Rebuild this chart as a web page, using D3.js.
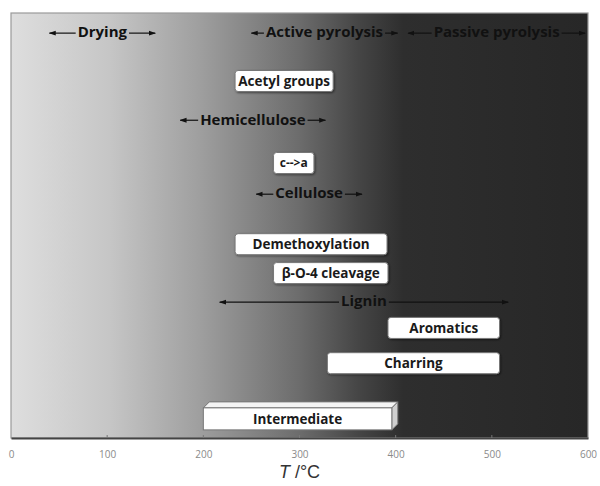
<!DOCTYPE html>
<html>
<head>
<meta charset="utf-8">
<script src="https://cdn.jsdelivr.net/npm/d3@7"></script>
<style>
  body { margin: 0; background: #fff; }
  svg text { font-family: "Open Sans", Lato, sans-serif; }
</style>
</head>
<body>
<div id="main"></div>
<script>
// ============ data ============
// temperature ranges (°C), row = vertical level (0 bottom, 100 top)
var spanLabels = ['Drying', 'Active pyrolysis', 'Passive pyrolysis', 'Hemicellulose', 'Cellulose', 'Lignin'];
var spanStart  = [40, 250, 413, 176, 255, 217];
var spanEnd    = [150, 402, 597, 327, 365, 517];
var spanRow    = [95.5, 95.5, 95.5, 75, 57.6, 32.2];

var boxLabels = ['Acetyl groups', 'c-->a', 'Demethoxylation', 'β-O-4 cleavage', 'Aromatics', 'Charring'];
var boxStart  = [233, 273, 233, 273, 392, 329];
var boxEnd    = [335, 315, 391, 392, 508, 508];
var boxRow    = [84, 64.7, 45.6, 38.8, 25.9, 17.6];

var intermLabel = 'Intermediate';
var intermRange = [200, 396];
var intermRow = 4.5;

var xTicks = [0, 100, 200, 300, 400, 500, 600];

// ============ layout ============
const W = 600, H = 486;
const plot = {left: 11, right: 588, top: 13, bottom: 438};

const svg = d3.select('#main').append('svg')
  .attr('width', W).attr('height', H);

var x = d3.scaleLinear().domain([0, 600]).range([plot.left, plot.right]);
var y = d3.scaleLinear().domain([0, 100]).range([plot.bottom, plot.top]);

// background gradient, light on the left, dark past 400 °C
var defs = svg.append('defs');
var grad = defs.append('linearGradient').attr('id', 'bg')
  .attr('x1', 0).attr('x2', 1).attr('y1', 0).attr('y2', 0);
[[0, '#dedede'], [0.17, '#c6c6c6'], [0.33, '#9e9e9e'], [0.5, '#6c6c6c'],
 [0.6, '#464646'], [0.68, '#2e2e2e'], [1, '#272727']]
  .forEach(function(s){ grad.append('stop').attr('offset', s[0]).attr('stop-color', s[1]); });

var shadow = defs.append('filter').attr('id', 'sh')
  .attr('x', '-10%').attr('y', '-20%').attr('width', '130%').attr('height', '160%');
shadow.append('feDropShadow').attr('dx', 1).attr('dy', 1).attr('stdDeviation', 0.8)
  .attr('flood-color', '#000').attr('flood-opacity', 0.5);

defs.append('marker').attr('id', 'ah')
  .attr('viewBox', '0 0 10 10').attr('refX', 9).attr('refY', 5)
  .attr('markerWidth', 7).attr('markerHeight', 7).attr('markerUnits', 'userSpaceOnUse')
  .attr('orient', 'auto')
  .append('path').attr('d', 'M0,1.5L10,5L0,8.5Z').attr('fill', '#111');

svg.append('rect')
  .attr('x', plot.left).attr('y', plot.top)
  .attr('width', plot.right - plot.left).attr('height', plot.bottom - plot.top)
  .attr('fill', 'url(#bg)')
  .attr('stroke', '#9a9a9a').attr('stroke-width', 1.2);

// x axis
var xAxis = d3.axisBottom(x).tickValues(xTicks).tickSize(0).tickPadding(13);
var gx = svg.append('g').attr('transform', 'translate(0,' + plot.bottom + ')').call(xAxis);
gx.select('.domain').attr('stroke', '#444').attr('stroke-width', 2);
gx.selectAll('text').attr('fill', '#8a8a8a').style('font-size', '10px')
  .style('font-family', '"Open Sans", sans-serif');
svg.selectAll('.itick').data(xTicks.slice(1, -1)).enter().append('line')
  .attr('x1', d => x(d)).attr('x2', d => x(d))
  .attr('y1', plot.bottom - 3).attr('y2', plot.bottom)
  .attr('stroke', '#777');

var xl = svg.append('text').attr('x', x(300)).attr('y', 478)
  .attr('text-anchor', 'middle').attr('fill', '#333').style('font-size', '18px')
  .style('font-family', '"Liberation Sans", Arial, sans-serif');
xl.append('tspan').attr('font-style', 'italic').text('T');
xl.append('tspan').text(' /°C');

// ============ double arrows with label ============
spanLabels.forEach(function(lab, i){
  var x0 = x(spanStart[i]), x1 = x(spanEnd[i]), yy = y(spanRow[i]);
  var g = svg.append('g');
  var t = g.append('text').attr('x', (x0 + x1) / 2).attr('y', yy)
    .attr('text-anchor', 'middle').attr('dy', '0.35em')
    .attr('fill', '#111').style('font-size', '15px').style('font-weight', 700)
    .text(lab);
  var tw = t.node().getComputedTextLength();
  var gap = 2;
  g.append('line').attr('x1', (x0 + x1) / 2 - tw / 2 - gap).attr('x2', x0)
    .attr('y1', yy + 1).attr('y2', yy + 1)
    .attr('stroke', '#111').attr('stroke-width', 1.2).attr('marker-end', 'url(#ah)');
  g.append('line').attr('x1', (x0 + x1) / 2 + tw / 2 + gap).attr('x2', x1)
    .attr('y1', yy + 1).attr('y2', yy + 1)
    .attr('stroke', '#111').attr('stroke-width', 1.2).attr('marker-end', 'url(#ah)');
});

// ============ boxes ============
var bh = 21;
boxLabels.forEach(function(lab, i){
  var x0 = x(boxStart[i]), x1 = x(boxEnd[i]), yy = y(boxRow[i]);
  svg.append('rect').attr('x', x0).attr('y', yy - bh / 2)
    .attr('width', x1 - x0).attr('height', bh).attr('rx', 3)
    .attr('fill', '#fff').attr('stroke', '#777').attr('stroke-width', 1)
    .attr('filter', 'url(#sh)');
  svg.append('text').attr('x', (x0 + x1) / 2).attr('y', yy).attr('dy', '0.36em')
    .attr('text-anchor', 'middle').attr('fill', '#1a1a1a')
    .style('font-size', lab === 'c-->a' ? '12px' : '13.5px').style('font-weight', 700)
    .text(lab);
});

// intermediate 3d box
(function(){
  var x0 = x(intermRange[0]), x1 = x(intermRange[1]), yy = y(intermRow);
  var h = 22, d = 6;
  var top = yy - h / 2;
  svg.append('path')
    .attr('d', 'M' + x0 + ',' + top + 'L' + (x0 + d) + ',' + (top - d) +
      'L' + (x1 + d) + ',' + (top - d) + 'L' + x1 + ',' + top + 'Z')
    .attr('fill', '#f4f4f4').attr('stroke', '#777');
  svg.append('path')
    .attr('d', 'M' + x1 + ',' + top + 'L' + (x1 + d) + ',' + (top - d) +
      'L' + (x1 + d) + ',' + (top + h - d) + 'L' + x1 + ',' + (top + h) + 'Z')
    .attr('fill', '#cfcfcf').attr('stroke', '#777');
  svg.append('rect').attr('x', x0).attr('y', top)
    .attr('width', x1 - x0).attr('height', h)
    .attr('fill', '#fff').attr('stroke', '#777');
  svg.append('text').attr('x', (x0 + x1) / 2).attr('y', yy).attr('dy', '0.36em')
    .attr('text-anchor', 'middle').attr('fill', '#1a1a1a')
    .style('font-size', '13.5px').style('font-weight', 700)
    .text(intermLabel);
})();
</script>
</body>
</html>
